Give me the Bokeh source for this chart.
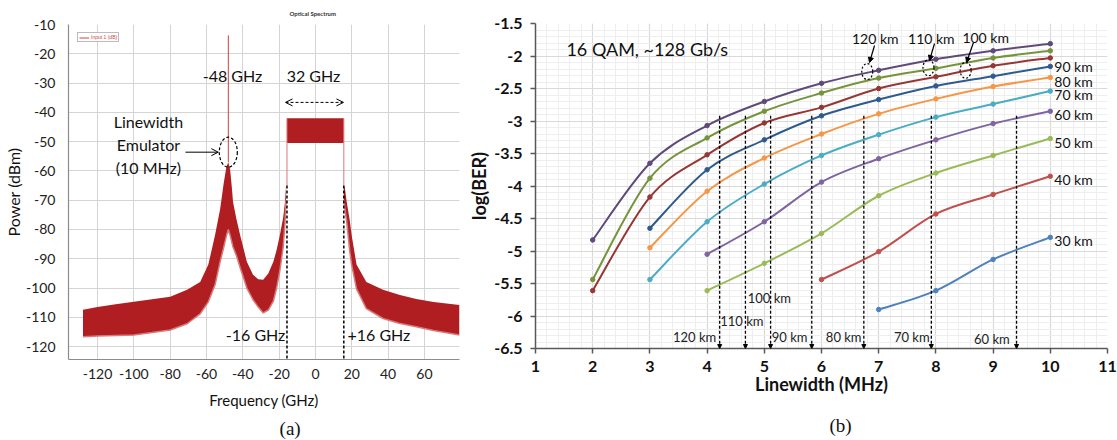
import re
from bokeh.plotting import figure
from bokeh.models import (ColumnDataSource, Label, Arrow, NormalHead, OpenHead, Grid,
                          FixedTicker, NumeralTickFormatter, LinearAxis, Legend, LegendItem)
from bokeh.embed import file_html
from bokeh.resources import INLINE

# ---------------- Panel (a) data : optical spectrum envelope ----------------
left_freq = [-128, -120, -110, -100, -90, -80, -70.7, -63.5, -59, -55.3, -52.5, -50.5, -49, -48,
             -47, -46, -45.4, -43.5, -41.5, -37.8, -34.4, -31.5, -28.8, -26, -23.2, -21.4,
             -19.6, -17.8, -16.8, -16.2]
left_top = [-107.4, -106.5, -105.5, -104.7, -103.8, -103, -100.6, -97.9, -92, -81.9, -73, -64,
            -58.5, -57, -59.5, -66, -70.6, -76.5, -81.9, -91, -95.5, -97, -97.2, -95, -91, -87,
            -81.9, -76, -70.6, -65]
left_bot = [-116.6, -116.4, -116.2, -116, -115.2, -114.3, -112.2, -108.8, -104.7, -98.9, -91,
            -86, -82, -80, -82, -84.5, -86, -89, -93, -100, -104, -106.5, -108.5, -107.5,
            -104.5, -100, -94, -86, -78, -70]
right_freq = [15.6, 16.2, 17.2, 18.9, 19.9, 22.6, 28, 37.2, 46, 55.5, 65, 79.3]
right_top = [-65, -66, -70.6, -77, -81.9, -92, -97.9, -100.6, -102.3, -103.7, -104.8, -105.8]
right_bot = [-70, -73, -77.4, -87.6, -92, -100.3, -107, -110.4, -112, -113.2, -114.5, -116]
sig_freq = [-15.7, 15.6]
sig_top = [-42.0, -42.0]
sig_bot = [-50.5, -50.5]
sig_edge_base = [-65.0, -65.0]
emu_freq = [-48.0]
emu_peak = [-13.7]
emu_base = [-57.0]
a_xticks = [-120, -100, -80, -60, -40, -20, 0, 20, 40, 60]
a_yticks = [-120, -110, -100, -90, -80, -70, -60, -50, -40, -30, -20, -10]

# ---------------- Panel (b) data : log(BER) vs linewidth ----------------
lw_all = [2, 3, 4, 5, 6, 7, 8, 9, 10]
ber_120 = [-4.83, -3.65, -3.07, -2.70, -2.42, -2.22, -2.05, -1.92, -1.81]
ber_110 = [-5.44, -3.88, -3.26, -2.85, -2.57, -2.34, -2.19, -2.03, -1.92]
ber_100 = [-5.61, -4.17, -3.52, -3.03, -2.79, -2.50, -2.32, -2.15, -2.03]
lw_3 = [3, 4, 5, 6, 7, 8, 9, 10]
ber_90 = [-4.65, -3.75, -3.29, -2.92, -2.67, -2.46, -2.31, -2.16]
ber_80 = [-4.95, -4.08, -3.57, -3.20, -2.89, -2.66, -2.47, -2.33]
ber_70 = [-5.44, -4.55, -3.97, -3.53, -3.21, -2.94, -2.74, -2.54]
lw_4 = [4, 5, 6, 7, 8, 9, 10]
ber_60 = [-5.05, -4.55, -3.94, -3.58, -3.29, -3.04, -2.85]
ber_50 = [-5.61, -5.19, -4.73, -4.15, -3.80, -3.53, -3.27]
lw_6 = [6, 7, 8, 9, 10]
ber_40 = [-5.44, -5.01, -4.43, -4.13, -3.85]
lw_7 = [7, 8, 9, 10]
ber_30 = [-5.90, -5.61, -5.13, -4.79]
tol_km = ["120 km", "110 km", "100 km", "90 km", "80 km", "70 km", "60 km"]
tol_lw = [4.22, 4.67, 5.11, 5.83, 6.74, 7.92, 9.41]
tol_top = -2.92
b_xticks = [1, 2, 3, 4, 5, 6, 7, 8, 9, 10, 11]
b_yticks = [-6.5, -6, -5.5, -5, -4.5, -4, -3.5, -3, -2.5, -2, -1.5]

series = [
    ("120 km", lw_all, ber_120, "#604a7b"),
    ("110 km", lw_all, ber_110, "#77933c"),
    ("100 km", lw_all, ber_100, "#953735"),
    ("90 km", lw_3, ber_90, "#2f5b8c"),
    ("80 km", lw_3, ber_80, "#f79646"),
    ("70 km", lw_3, ber_70, "#4bacc6"),
    ("60 km", lw_4, ber_60, "#8064a2"),
    ("50 km", lw_4, ber_50, "#9bbb59"),
    ("40 km", lw_6, ber_40, "#c0504d"),
    ("30 km", lw_7, ber_30, "#4f81bd"),
]

FONT = "Lato"
RED = "#b01e22"
PINK = "#d77a7a"
NB = "\u00a0"

# =========================== Panel (a) ===========================
XA = (-136, 79.3)
YA = (-124.4, -10.0)
pa = figure(frame_width=391, frame_height=335, x_range=XA, y_range=YA, output_backend="svg",
            toolbar_location=None, min_border_left=68, min_border_right=6,
            min_border_top=23, min_border_bottom=82)
pa.outline_line_color = None
pa.title.text = "Optical Spectrum"
pa.title.text_font = FONT
pa.title.text_font_size = "6px"
pa.title.text_font_style = "bold"
pa.title.text_color = "#333333"
pa.title.align = "left"
pa.title.offset = 221
pa.title.standoff = 15
pa.xgrid.ticker = FixedTicker(ticks=a_xticks)
pa.ygrid.ticker = FixedTicker(ticks=a_yticks)
for g in (pa.xgrid, pa.ygrid):
    g.grid_line_color = "#d4d4d4"
    g.grid_line_width = 1
pa.add_layout(Grid(dimension=1, ticker=FixedTicker(ticks=[YA[1]]), grid_line_color="#d98c8c",
                   grid_line_width=1.5))
pa.xaxis.ticker = FixedTicker(ticks=a_xticks)
pa.yaxis.ticker = FixedTicker(ticks=a_yticks)
for ax in (pa.xaxis, pa.yaxis):
    ax.formatter = NumeralTickFormatter(format="0")
    ax.axis_line_color = "#8c8c8c"
    ax.axis_line_width = 1.2
    ax.major_tick_out = 0
    ax.major_tick_in = 0
    ax.minor_tick_out = 0
    ax.minor_tick_in = 0
    ax.major_label_text_font = FONT
    ax.major_label_text_font_size = "14px"
    ax.major_label_text_color = "#222222"
    ax.axis_label_text_font = FONT
    ax.axis_label_text_font_style = "normal"
    ax.axis_label_text_color = "#111111"
pa.yaxis.major_label_standoff = 13
pa.xaxis.major_label_standoff = 9
pa.yaxis.axis_label = "Power (dBm)"
pa.yaxis.axis_label_text_font_size = "16px"
pa.yaxis.axis_label_standoff = 0
pa.xaxis.axis_label = "Frequency (GHz)"
pa.xaxis.axis_label_text_font_size = "15px"
pa.xaxis.axis_label_standoff = 9
cap_a = LinearAxis(ticker=FixedTicker(ticks=[]), axis_line_color=None, major_tick_out=0,
                   major_tick_in=0, minor_tick_out=0, minor_tick_in=0, major_label_standoff=0,
                   axis_label=NB * 11 + "(a)", axis_label_standoff=6,
                   axis_label_text_font="Liberation Serif", axis_label_text_font_size="19px",
                   axis_label_text_font_style="normal", axis_label_text_color="#111111")
pa.add_layout(cap_a, "below")

pa.varea(x=left_freq, y1=left_bot, y2=left_top, fill_color=RED)
pa.line(x=left_freq, y=left_bot, line_color=PINK, line_width=1.5)
pa.varea(x=right_freq, y1=right_bot, y2=right_top, fill_color=RED)
pa.line(x=right_freq, y=right_bot, line_color=PINK, line_width=1.5)
pa.varea(x=sig_freq, y1=sig_bot, y2=sig_top, fill_color=RED)
pa.segment(x0=sig_freq, y0=sig_edge_base, x1=sig_freq, y1=sig_top, line_color=PINK, line_width=1)
spike = pa.segment(x0=emu_freq, y0=emu_base, x1=emu_freq, y1=emu_peak, line_color="#d04040",
                   line_width=1)

# dashed markers at the signal edges
pa.segment(x0=sig_freq, y0=sig_edge_base, x1=sig_freq, y1=[YA[0], YA[0]], line_color="black",
           line_width=1.5, line_dash="3 2")

leg = Legend(items=[LegendItem(label="Input 1 (dB)", renderers=[spike])], location=(9, 317),
             label_text_font_size="5px", label_text_color="#d04040", glyph_height=5,
             glyph_width=10, label_height=5, label_standoff=2, padding=1, margin=0,
             spacing=0, border_line_color="#777777", border_line_width=1,
             background_fill_color="white")
pa.add_layout(leg)


def alabel(p, x, y, t, size="16px", align="center"):
    p.add_layout(Label(x=x, y=y, text=t, text_font=FONT, text_font_size=size,
                       text_align=align, text_baseline="middle", text_color="#111111"))


alabel(pa, -45.7, -27.4, "-48 GHz")
alabel(pa, -1.1, -27.4, "32 GHz")
alabel(pa, -92, -43.0, "Linewidth")
alabel(pa, -92, -50.9, "Emulator")
alabel(pa, -92, -58.7, "(10 MHz)")
alabel(pa, -16.6, -115.9, "-16 GHz", align="right")
alabel(pa, 17.6, -115.9, "+16 GHz", align="left")

pa.add_layout(Arrow(x_start=sig_freq[0] - 0.8, y_start=-36.6, x_end=sig_freq[1] - 0.2, y_end=-36.6,
                    line_color="black", line_width=1, line_dash="3 2",
                    start=OpenHead(size=7, line_width=1), end=OpenHead(size=7, line_width=1)))
pa.add_layout(Arrow(x_start=-71.6, y_start=-53.6, x_end=-53.5, y_end=-53.6, line_color="black",
                    line_width=1, end=OpenHead(size=7, line_width=1)))
pa.ellipse(x=emu_freq, y=[-53.6], width=18, height=30, width_units="screen",
           height_units="screen", fill_color=None, line_color="black", line_width=1.2,
           line_dash="3 2")

# =========================== Panel (b) ===========================
pb = figure(frame_width=572, frame_height=325, x_range=(1, 11), y_range=(-6.5, -1.5),
            output_backend="svg", toolbar_location=None, min_border_left=69,
            min_border_right=11, min_border_top=23, min_border_bottom=92)
pb.outline_line_color = None
minor_x = [1 + 0.2 * i for i in range(51)]
minor_y = [-6.5 + 0.1 * i for i in range(51)]
pb.xaxis.ticker = FixedTicker(ticks=b_xticks, minor_ticks=minor_x)
pb.yaxis.ticker = FixedTicker(ticks=b_yticks, minor_ticks=minor_y)
pb.xgrid.ticker = pb.xaxis.ticker
pb.ygrid.ticker = pb.yaxis.ticker
for g in (pb.xgrid, pb.ygrid):
    g.grid_line_color = "#d9d9d9"
    g.grid_line_width = 1.2
    g.minor_grid_line_color = "#eeeeee"
    g.minor_grid_line_width = 1
pb.yaxis.formatter = NumeralTickFormatter(format="0.[0]")
pb.xaxis.formatter = NumeralTickFormatter(format="0")
for ax in (pb.xaxis, pb.yaxis):
    ax.axis_line_color = "#595959"
    ax.axis_line_width = 1.5
    ax.major_tick_line_color = "#595959"
    ax.major_tick_line_width = 1.5
    ax.major_tick_out = 5
    ax.major_tick_in = 0
    ax.minor_tick_out = 0
    ax.minor_tick_in = 0
    ax.major_label_text_font = FONT
    ax.major_label_text_font_size = "16px"
    ax.major_label_text_font_style = "bold"
    ax.major_label_text_color = "#111111"
    ax.axis_label_text_font = FONT
    ax.axis_label_text_font_size = "18px"
    ax.axis_label_text_font_style = "bold"
    ax.axis_label_text_color = "#111111"
pb.yaxis.major_label_standoff = 8
pb.xaxis.major_label_standoff = 7
pb.yaxis.axis_label = "log(BER)"
pb.yaxis.axis_label_standoff = 1
pb.xaxis.axis_label = "Linewidth (MHz)"
pb.xaxis.axis_label_standoff = -2
cap_b = LinearAxis(ticker=FixedTicker(ticks=[]), axis_line_color=None, major_tick_out=0,
                   major_tick_in=0, minor_tick_out=0, minor_tick_in=0, major_label_standoff=0,
                   axis_label=NB * 8 + "(b)", axis_label_standoff=17,
                   axis_label_text_font="Liberation Serif", axis_label_text_font_size="19px",
                   axis_label_text_font_style="normal", axis_label_text_color="#111111")
pb.add_layout(cap_b, "below")


def bezier_parts(xs, ys):
    n = len(xs)
    d = dict(x0=[], y0=[], x1=[], y1=[], cx0=[], cy0=[], cx1=[], cy1=[])
    for i in range(n - 1):
        xa, ya, xb, yb = xs[i], ys[i], xs[i + 1], ys[i + 1]
        xp, yp = (xs[i - 1], ys[i - 1]) if i > 0 else (xa, ya)
        xn, yn = (xs[i + 2], ys[i + 2]) if i + 2 < n else (xb, yb)
        d["x0"].append(xa); d["y0"].append(ya); d["x1"].append(xb); d["y1"].append(yb)
        d["cx0"].append(xa + (xb - xp) / 6); d["cy0"].append(ya + (yb - yp) / 6)
        d["cx1"].append(xb - (xn - xa) / 6); d["cy1"].append(yb - (yn - ya) / 6)
    return d


for name, xs, ys, col in series:
    pb.bezier(source=ColumnDataSource(bezier_parts(xs, ys)), x0="x0", y0="y0", x1="x1", y1="y1",
              cx0="cx0", cy0="cy0", cx1="cx1", cy1="cy1", line_color=col, line_width=2)
    pb.scatter(x=xs, y=ys, size=4.5, fill_color=col, line_color=col)
    if name not in ("120 km", "110 km", "100 km"):
        dy = 0.0 if name == "90 km" else -0.055
        pb.add_layout(Label(x=xs[-1], y=ys[-1] + dy, text=name, x_offset=4, text_font=FONT,
                            text_font_size="14px", text_baseline="middle",
                            text_color="#111111"))

# tolerance markers
pb.add_layout(Arrow(source=ColumnDataSource(dict(x=tol_lw, y0=[tol_top] * len(tol_lw),
                                                 y1=[-6.5] * len(tol_lw))),
                    x_start="x", y_start="y0", x_end="x", y_end="y1", line_color="black",
                    line_width=1.3, line_dash="3 2",
                    end=NormalHead(size=4, fill_color="black", line_color="black")))
tol_lab = [(4.16, -6.33, "right"), (4.23, -6.08, "left"), (4.71, -5.73, "left"),
           (5.13, -6.33, "left"), (6.70, -6.33, "right"), (7.89, -6.33, "right"),
           (9.29, -6.35, "right")]
for (tx, ty, al), t in zip(tol_lab, tol_km):
    pb.add_layout(Label(x=tx, y=ty, text=t, text_font=FONT, text_font_size="13px",
                        text_align=al, text_baseline="middle", text_color="#222222"))

# callouts for the top three curves
call_lab = [(6.94, -1.73), (7.92, -1.73), (8.87, -1.715)]
call_arr = [((6.927, -1.838), (6.839, -2.10)), ((7.976, -1.808), (7.888, -2.069)),
            ((8.657, -1.792), (8.535, -2.10))]
call_ell = [(6.80, -2.24), (7.87, -2.18), (8.52, -2.22)]
for (lx, ly), ((sx, sy), (ex, ey)), t in zip(call_lab, call_arr, tol_km[:3]):
    pb.add_layout(Label(x=lx, y=ly, text=t, text_font=FONT, text_font_size="14px",
                        text_align="center", text_baseline="middle", text_color="#111111"))
    pb.add_layout(Arrow(x_start=sx, y_start=sy, x_end=ex, y_end=ey, line_color="black",
                        line_width=1.2, end=NormalHead(size=5, fill_color="black",
                                                      line_color="black")))
pb.ellipse(x=[c[0] for c in call_ell], y=[c[1] for c in call_ell], width=11, height=16,
           width_units="screen", height_units="screen", fill_color=None, line_color="black",
           line_width=1.2, line_dash="2 2")

pb.add_layout(Label(x=1.54, y=-1.885, text="16 QAM, ~128 Gb/s", text_font=FONT,
                    text_font_size="18px", text_baseline="middle", text_color="#111111"))

html = file_html([pa, pb], INLINE)
css = ("<style>html,body{margin:0!important;padding:0!important;}"
       "body{display:flex!important;flex-direction:row!important;"
       "align-items:flex-start!important;flex-wrap:nowrap!important;}"
       "body>div{flex:none!important;}</style>")
html = html.replace("</head>", css + "</head>", 1)
html = re.sub(r"<body[^>]*>",
              '<body style="margin:0;display:flex;flex-direction:row;align-items:flex-start;">',
              html, count=1)
open("out.html", "w").write(html)
